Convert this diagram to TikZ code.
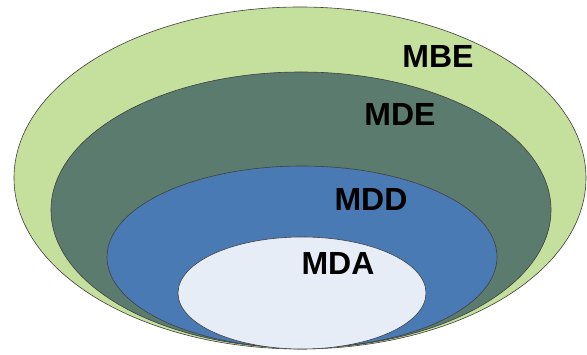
\documentclass[tikz,border=0pt]{standalone}
\usepackage{fontspec}
\setmainfont{Liberation Sans}
\usepackage{xcolor}
\definecolor{mbegreen}{HTML}{C4E09C}
\definecolor{mdegrey}{HTML}{5B7B6F}
\definecolor{mddblue}{HTML}{4A7AB4}
\definecolor{mdawhite}{HTML}{E7EDF7}
\tikzset{
  layer/.style={draw=black!75, line width=0.6pt},
  lbl/.style={font=\fontsize{32}{38}\selectfont\bfseries, text=black, inner sep=0pt}
}
\begin{document}
\begin{tikzpicture}[x=1pt,y=-1pt]
\useasboundingbox (0,0) rectangle (587,355);
\fill[white] (0,0) rectangle (587,355);

\draw[layer, fill=mbegreen] (300,178) ellipse [x radius=286, y radius=171];
\draw[layer, fill=mdegrey] (301,210) ellipse [x radius=250, y radius=138];
\draw[layer, fill=mddblue] (302,257) ellipse [x radius=195, y radius=91];
\draw[layer, fill=mdawhite] (302,293) ellipse [x radius=124, y radius=56];

\node[lbl] (mbe) at (438,56) {MBE};
\node[lbl] (mde) at (400,114) {MDE};
\node[lbl] (mdd) at (371,199) {MDD};
\node[lbl] (mda) at (338,263) {MDA};
\end{tikzpicture}
\end{document}
